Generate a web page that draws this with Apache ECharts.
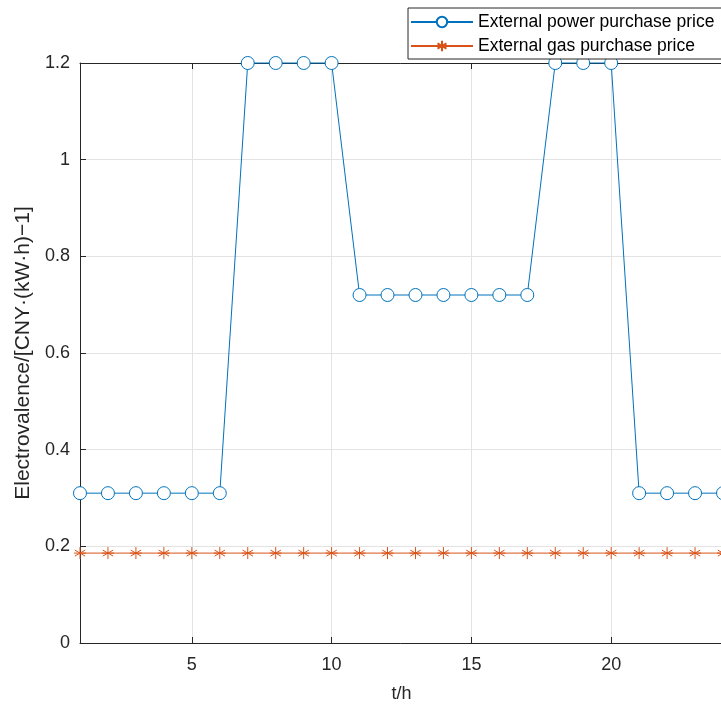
<!DOCTYPE html>
<html>
<head>
<meta charset="utf-8">
<script src="https://cdn.jsdelivr.net/npm/echarts@6/dist/echarts.min.js"></script>
<style>
  html, body { margin: 0; padding: 0; background: #fff; }
  #main { width: 721px; height: 704px; }
</style>
</head>
<body>
<div id="main"></div>
<script>
// hours 1..24
var hours = [1, 2, 3, 4, 5, 6, 7, 8, 9, 10, 11, 12, 13, 14, 15, 16, 17, 18, 19, 20, 21, 22, 23, 24];
var powerPrice = [0.31, 0.31, 0.31, 0.31, 0.31, 0.31, 1.2, 1.2, 1.2, 1.2, 0.72, 0.72, 0.72, 0.72, 0.72, 0.72, 0.72, 1.2, 1.2, 1.2, 0.31, 0.31, 0.31, 0.31];
var gasPrice = [0.186, 0.186, 0.186, 0.186, 0.186, 0.186, 0.186, 0.186, 0.186, 0.186, 0.186, 0.186, 0.186, 0.186, 0.186, 0.186, 0.186, 0.186, 0.186, 0.186, 0.186, 0.186, 0.186, 0.186];
var xTickHours = [5, 10, 15, 20];

var FONT = 'Liberation Sans';
var AXIS_COLOR = '#262626';
var GRID_COLOR = '#e3e3e3';

// matlab style '*' marker
var STAR = 'path://M5,0L5,10M0.67,2.5L9.33,7.5M0.67,7.5L9.33,2.5M0,5L10,5';

function isTick(idx) {
    return xTickHours.indexOf(hours[idx]) !== -1;
}

var chart = echarts.init(document.getElementById('main'));

var option = {
    animation: false,
    backgroundColor: '#fff',
    textStyle: { fontFamily: FONT },
    grid: { left: 80, right: -2, top: 63, bottom: 61, outerBoundsMode: 'none', containLabel: false },
    legend: {
        orient: 'vertical',
        left: 408,
        top: 8,
        backgroundColor: '#fff',
        borderColor: AXIS_COLOR,
        borderWidth: 1,
        borderRadius: 0,
        padding: [5, 40, 4, 2],
        itemWidth: 62,
        itemHeight: 13,
        itemGap: 6,
        textStyle: { fontSize: 17.5, color: '#000', fontFamily: FONT },
        data: ['External power purchase price', 'External gas purchase price']
    },
    xAxis: [{
        type: 'category',
        data: hours,
        boundaryGap: false,
        name: 't/h',
        nameLocation: 'middle',
        nameGap: 42,
        nameTextStyle: { fontSize: 18, color: AXIS_COLOR },
        axisLine: { lineStyle: { color: AXIS_COLOR, width: 1 } },
        axisTick: { inside: true, length: 6, interval: isTick, lineStyle: { color: AXIS_COLOR } },
        axisLabel: { interval: isTick, fontSize: 18, color: AXIS_COLOR, margin: 13 },
        splitLine: { show: true, interval: isTick, lineStyle: { color: GRID_COLOR } }
    }, {
        type: 'category',
        data: hours,
        boundaryGap: false,
        position: 'top',
        axisLine: { lineStyle: { color: AXIS_COLOR, width: 1 } },
        axisTick: { inside: true, length: 6, interval: isTick, lineStyle: { color: AXIS_COLOR } },
        axisLabel: { show: false },
        splitLine: { show: false }
    }],
    yAxis: {
        type: 'value',
        min: 0,
        max: 1.2,
        interval: 0.2,
        name: 'Electrovalence/[CNY·(kW·h)\u22121]',
        nameLocation: 'middle',
        nameRotate: 90,
        nameGap: 40,
        nameTextStyle: { fontSize: 21, color: AXIS_COLOR },
        axisLine: { show: true, lineStyle: { color: AXIS_COLOR, width: 1 } },
        axisTick: { show: true, inside: true, length: 6, lineStyle: { color: AXIS_COLOR } },
        axisLabel: { fontSize: 18, color: AXIS_COLOR, margin: 10 },
        splitLine: { show: true, lineStyle: { color: GRID_COLOR } }
    },
    series: [{
        name: 'External power purchase price',
        type: 'line',
        data: powerPrice,
        symbol: 'circle',
        symbolSize: 13,
        showAllSymbol: true,
        clip: false,
        lineStyle: { color: '#0072BD', width: 1 },
        itemStyle: { color: '#fff', borderColor: '#0072BD', borderWidth: 1 }
    }, {
        name: 'External gas purchase price',
        type: 'line',
        data: gasPrice,
        symbol: STAR,
        symbolSize: 12,
        showAllSymbol: true,
        clip: false,
        lineStyle: { color: '#D95319', width: 1 },
        itemStyle: { color: '#D95319', borderColor: '#D95319', borderWidth: 1 }
    }]
};

chart.setOption(option);
</script>
</body>
</html>
